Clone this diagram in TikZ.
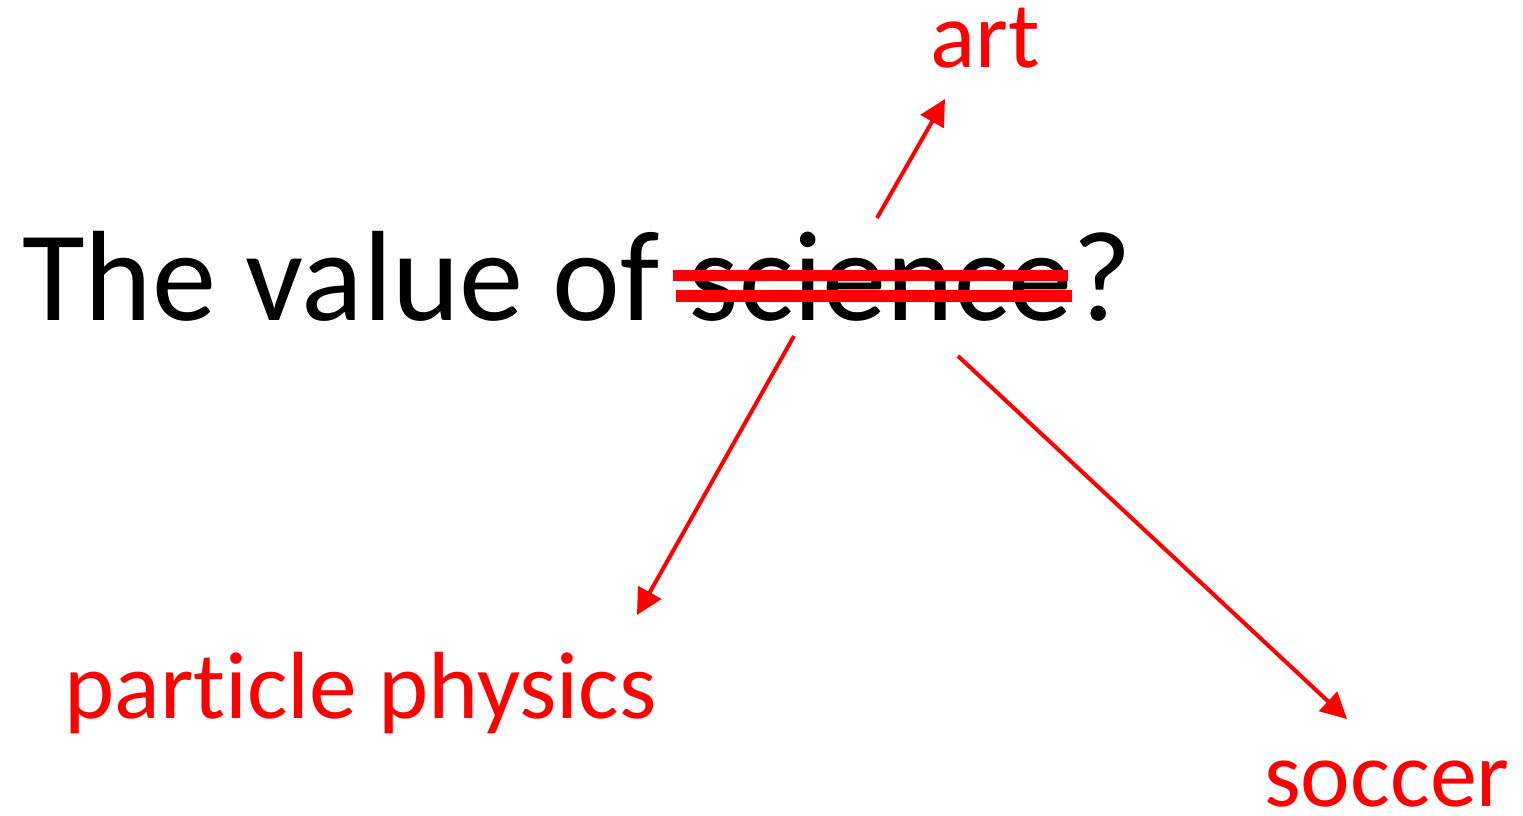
\documentclass[tikz,border=0pt]{standalone}
\usepackage{fontspec}
\setmainfont[Ligatures={NoCommon,NoRare}]{Carlito}
\usetikzlibrary{arrows.meta}
\definecolor{strk}{RGB}{255,0,0}
\tikzset{
  lbl/.style={anchor=base west, inner sep=0pt, text=strk, font=\fontsize{94}{100}\selectfont},
  mainlbl/.style={anchor=base west, inner sep=0pt, text=black, font=\fontsize{128.5}{140}\selectfont},
  arr/.style={draw=strk, line width=4pt, -{Triangle[length=26pt,width=26pt]}},
  strike/.style={draw=strk, line width=11.5pt}
}
\begin{document}
\begin{tikzpicture}[x=1pt,y=-1pt]
\useasboundingbox (0,0) rectangle (1523,816);
\node[mainlbl] (main) at (22,320) {The value of science?};
\node[lbl] (art) at (930,67) {art};
\node[lbl, font=\fontsize{95.5}{100}\selectfont] (pp) at (64,718) {part\kern0pt icle physics};
\node[lbl] (soc) at (1264,806) {soccer};
\coordinate (s1a) at (673,275.5);
\coordinate (s1b) at (1068,275.5);
\coordinate (s2a) at (676,296);
\coordinate (s2b) at (1072,296);
\draw[strike] (s1a) -- (s1b);
\draw[strike] (s2a) -- (s2b);
\coordinate (artS) at (877,218);
\coordinate (artT) at (945,99);
\coordinate (ppS) at (794,336);
\coordinate (ppT) at (637,615);
\coordinate (socS) at (958,356);
\coordinate (socT) at (1347,719);
\draw[arr] (artS) -- (artT);
\draw[arr] (ppS) -- (ppT);
\draw[arr] (socS) -- (socT);
\end{tikzpicture}
\end{document}
